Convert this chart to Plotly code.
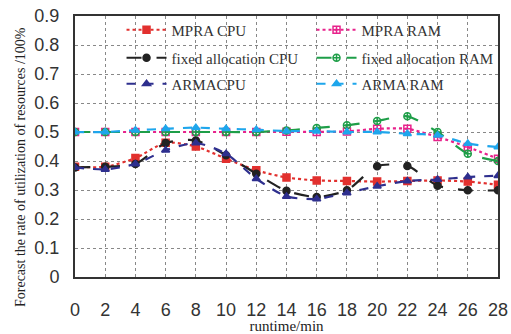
import plotly.graph_objects as go

runtime = [0, 2, 4, 6, 8, 10, 12, 14, 16, 18, 20, 22, 24, 26, 28]
mpra_cpu = [0.38, 0.38, 0.41, 0.463, 0.45, 0.408, 0.368, 0.343, 0.333, 0.331, 0.329, 0.331, 0.333, 0.329, 0.318]
mpra_ram = [0.50, 0.50, 0.50, 0.50, 0.50, 0.50, 0.50, 0.501, 0.50, 0.502, 0.511, 0.511, 0.483, 0.448, 0.408]
fixed_cpu = [0.378, 0.38, 0.39, 0.462, 0.471, 0.42, 0.356, 0.297, 0.276, 0.299, 0.382, 0.383, 0.315, 0.299, 0.299]
fixed_ram = [0.50, 0.50, 0.50, 0.50, 0.50, 0.50, 0.50, 0.505, 0.514, 0.523, 0.538, 0.554, 0.50, 0.425, 0.40]
arma_cpu = [0.378, 0.371, 0.39, 0.437, 0.462, 0.425, 0.339, 0.278, 0.269, 0.29, 0.313, 0.331, 0.336, 0.345, 0.349]
arma_ram = [0.50, 0.50, 0.506, 0.511, 0.515, 0.511, 0.508, 0.503, 0.503, 0.50, 0.50, 0.494, 0.489, 0.46, 0.448]

series = [
    ("MPRA CPU", mpra_cpu, "#e2302e", "dot", "square", "legend"),
    ("MPRA RAM", mpra_ram, "#e8228c", "dot", "square-cross-open", "legend"),
    ("fixed allocation CPU", fixed_cpu, "#222222", "longdash", "circle", "legend2"),
    ("fixed allocation RAM", fixed_ram, "#1e9e48", "longdash", "circle-cross-open", "legend2"),
    ("ARMACPU", arma_cpu, "#2e2f8e", "dash", "triangle-up", "legend3"),
    ("ARMA RAM", arma_ram, "#1ea6ec", "dash", "triangle-up", "legend3"),
]

fig = go.Figure()
for name, ys, color, dash, sym, lg in series:
    fig.add_trace(go.Scatter(
        x=runtime, y=ys, name=name, mode="lines+markers", legend=lg,
        line=dict(color=color, dash=dash, width=2.2, shape="spline", smoothing=0.7),
        marker=dict(color=color, symbol=sym, size=7, line=dict(color=color, width=1.5)),
    ))

def leg(py):
    return dict(
        orientation="h", x=0.11, y=(277 - py) / 261, xanchor="left", yanchor="middle",
        entrywidth=135, entrywidthmode="pixels",
        bgcolor="rgba(0,0,0,0)", font=dict(family="Liberation Serif", size=15, color="#333"),
        tracegroupgap=0, itemwidth=40,
    )

fig.update_layout(
    width=511, height=334,
    margin=dict(l=75, r=13, t=16, b=57, autoexpand=False),
    paper_bgcolor="white", plot_bgcolor="white",
    font=dict(family="Liberation Serif", color="#222"),
    showlegend=True,
    legend=leg(30), legend2=leg(58), legend3=leg(84),
    annotations=[dict(
        text="Forecast the rate of utilization of resources /100%",
        textangle=-90, xref="paper", yref="paper",
        x=-0.13, y=(277 - 167) / 261, xanchor="center", yanchor="middle",
        showarrow=False, font=dict(family="Liberation Serif", size=14, color="#222"),
    )],
)
fig.update_xaxes(
    range=[0, 28], dtick=2, tick0=0,
    showgrid=True, gridcolor="#888", griddash="dot", gridwidth=1,
    showline=True, mirror=True, linecolor="#333", linewidth=2,
    ticks="", ticklabelstandoff=15, tickfont=dict(family="Liberation Sans", size=18, color="#333"),
    title=dict(text="runtime/min", font=dict(family="Liberation Serif", size=15, color="#222"), standoff=2),
    zeroline=False,
)
fig.update_yaxes(
    range=[0, 0.9], dtick=0.1, tick0=0,
    showgrid=True, gridcolor="#888", griddash="dot", gridwidth=1,
    showline=True, mirror=True, linecolor="#333", linewidth=2,
    ticks="", ticklabelstandoff=10, tickfont=dict(family="Liberation Sans", size=18, color="#333"),
    zeroline=False,
)

fig.write_html("out.html")
